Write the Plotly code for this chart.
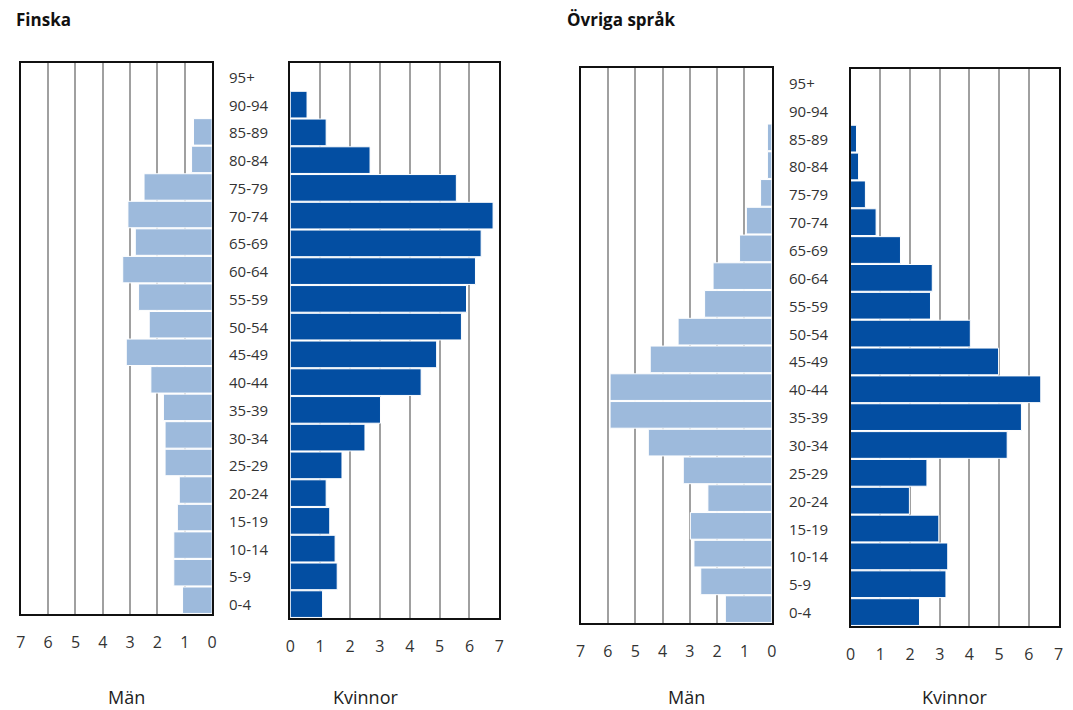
import plotly.graph_objects as go

W, H = 1073, 710

age_groups = ["0-4", "5-9", "10-14", "15-19", "20-24", "25-29", "30-34", "35-39",
              "40-44", "45-49", "50-54", "55-59", "60-64", "65-69", "70-74",
              "75-79", "80-84", "85-89", "90-94", "95+"]

finska_man = [1.08, 1.40, 1.40, 1.27, 1.20, 1.72, 1.72, 1.78, 2.24, 3.14,
              2.30, 2.69, 3.27, 2.81, 3.08, 2.49, 0.75, 0.68, 0.0, 0.0]
finska_kvinnor = [1.08, 1.57, 1.50, 1.32, 1.20, 1.73, 2.50, 3.02, 4.38, 4.90,
                  5.73, 5.90, 6.20, 6.39, 6.79, 5.56, 2.67, 1.20, 0.56, 0.0]
ovriga_man = [1.70, 2.60, 2.85, 2.98, 2.34, 3.24, 4.52, 5.92, 5.92, 4.45,
              3.43, 2.46, 2.15, 1.18, 0.93, 0.41, 0.16, 0.16, 0.0, 0.0]
ovriga_kvinnor = [2.32, 3.21, 3.27, 2.97, 1.98, 2.57, 5.27, 5.75, 6.40, 4.98,
                  4.03, 2.69, 2.75, 1.68, 0.86, 0.50, 0.27, 0.20, 0.0, 0.0]

x_ticks = [0, 1, 2, 3, 4, 5, 6, 7]
titles = ["Finska", "Övriga språk"]
sex_labels = ["Män", "Kvinnor"]

LIGHT = "#9DBADC"
DARK = "#034EA2"
FONT = "Open Sans"


def px(x):
    return x / W


def py(y):
    return 1 - y / H


# panel boxes in screen pixels: (x0, x1, ytop, ybottom)
panels = [
    (16, 209, 63, 614),
    (288, 499, 63, 618),
    (581, 774, 68, 623),
    (853.5, 1063.5, 69, 626),
]

series = [finska_man, finska_kvinnor, ovriga_man, ovriga_kvinnor]
colors = [LIGHT, DARK, LIGHT, DARK]

fig = go.Figure()
for i, (vals, col) in enumerate(zip(series, colors)):
    sfx = "" if i == 0 else str(i + 1)
    fig.add_trace(go.Bar(
        x=vals, y=age_groups, orientation="h",
        marker=dict(color=col, line=dict(color="white", width=1)),
        xaxis="x" + sfx, yaxis="y" + sfx, showlegend=False,
        hoverinfo="x+y",
    ))

layout = dict(
    width=W, height=H, margin=dict(l=0, r=0, t=0, b=0),
    paper_bgcolor="white", plot_bgcolor="white",
    bargap=0.04, showlegend=False,
    font=dict(family=FONT, color="#333333"),
)

for i, (x0, x1, yt, yb) in enumerate(panels):
    sfx = "" if i == 0 else str(i + 1)
    is_man = i % 2 == 0
    layout["xaxis" + sfx] = dict(
        domain=[px(x0), px(x1)],
        anchor="y" + sfx,
        range=[7, 0] if is_man else [0, 7],
        tickvals=x_ticks, ticktext=[str(t) for t in x_ticks],
        showgrid=True, gridcolor="#A0A0A0", gridwidth=1.5,
        zeroline=False, showline=True, linecolor="#111111", linewidth=1.5,
        mirror=True, ticks="", ticklabelstandoff=13,
        tickfont=dict(size=16, color="#333333", family=FONT),
        fixedrange=True,
    )
    layout["yaxis" + sfx] = dict(
        domain=[py(yb), py(yt)],
        anchor="x" + sfx,
        type="category", categoryorder="array", categoryarray=age_groups,
        range=[-0.5, len(age_groups) - 0.5],
        showticklabels=False, showgrid=False, zeroline=False,
        showline=True, linecolor="#111111", linewidth=1.5, mirror=True,
        ticks="", fixedrange=True,
    )

fig.update_layout(**layout)

annotations = []
# age labels between panels
for lab_x, yref in [(224, "y2"), (789, "y4")]:
    for j, ag in enumerate(age_groups):
        annotations.append(dict(
            x=px(lab_x), xref="paper", y=j, yref=yref,
            text=ag, showarrow=False, xanchor="left", yanchor="middle",
            font=dict(size=15, color="#333333", family=FONT),
        ))

# chart titles
for tx, t in zip([9, 565], titles):
    annotations.append(dict(
        x=px(tx), xref="paper", y=py(20), yref="paper",
        text="<b>" + t + "</b>", showarrow=False, xanchor="left", yanchor="middle",
        font=dict(size=17, color="#111111", family=FONT),
    ))

# sex labels under the panels
for cx, lab in zip([122.5, 364, 687.5, 958], sex_labels * 2):
    annotations.append(dict(
        x=px(cx), xref="paper", y=py(697), yref="paper",
        text=lab, showarrow=False, xanchor="center", yanchor="middle",
        font=dict(size=18, color="#222222", family=FONT),
    ))

fig.update_layout(annotations=annotations)
fig.write_html(
    "out.html",
    config={"displayModeBar": False},
    post_script="document.body.style.margin='0';document.body.style.overflow='hidden';",
)
